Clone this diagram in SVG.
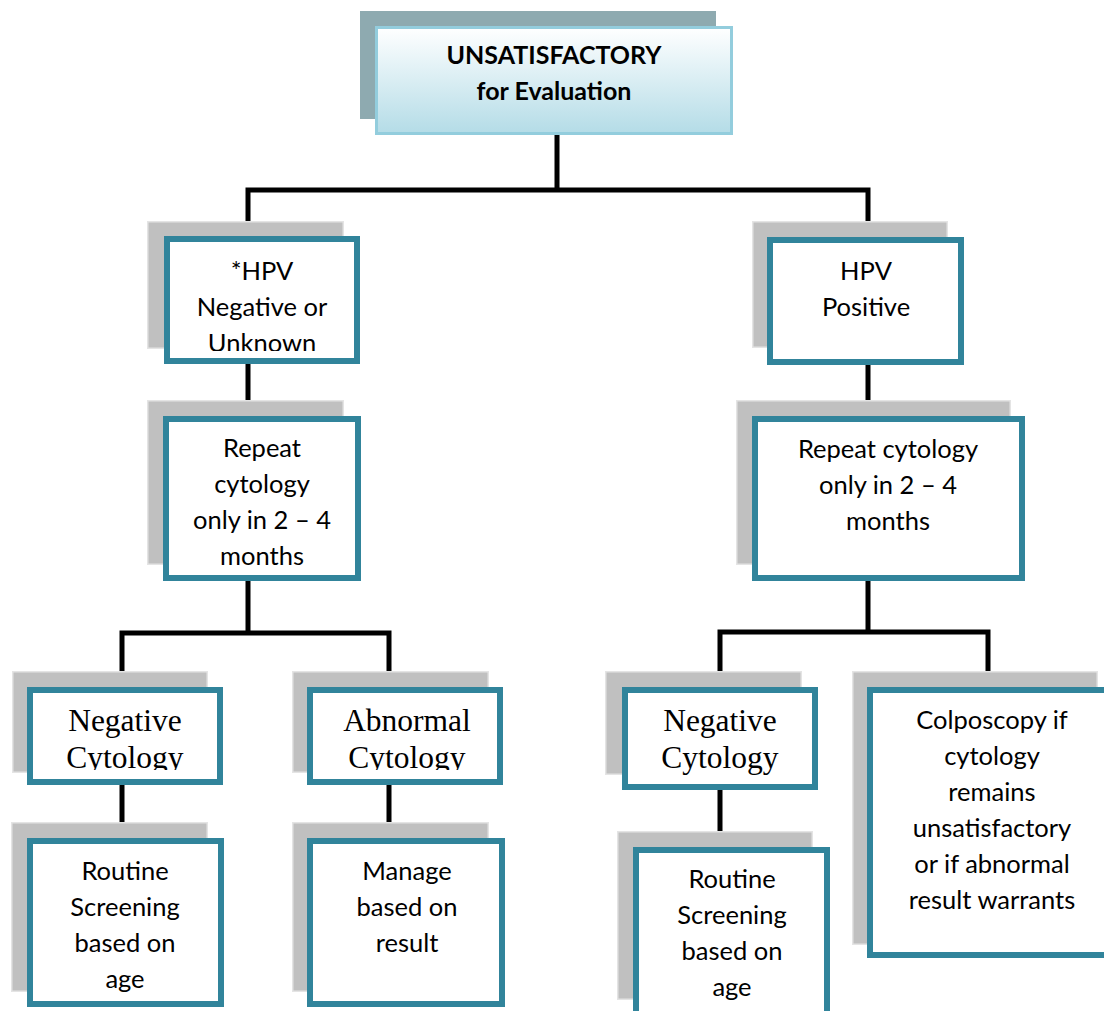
<svg xmlns="http://www.w3.org/2000/svg" width="1104" height="1011" viewBox="0 0 1104 1011">
  <defs>
    <linearGradient id="topFill" x1="0" y1="0" x2="0" y2="1">
      <stop offset="0" stop-color="#ffffff"/>
      <stop offset="1" stop-color="#b4dce7"/>
    </linearGradient>
    <clipPath id="clipHpvNeg"><rect x="170" y="242" width="184" height="109"/></clipPath>
    <clipPath id="clipNegL"><rect x="33" y="693" width="184" height="77"/></clipPath>
    <clipPath id="clipAbn"><rect x="313" y="693" width="184" height="77"/></clipPath>
  </defs>
  <style>
    .shadow { fill: #c0c0c0; stroke: #e4e4e4; stroke-width: 1.5; }
    .box { fill: #ffffff; stroke: #31849b; stroke-width: 6; }
    .lbl { font-family: "Lato", "Liberation Sans", sans-serif; font-size: 25.5px; fill: #000; text-anchor: middle; }
    .ser { font-family: "Liberation Serif", "Times New Roman", serif; font-size: 31.5px; fill: #000; text-anchor: middle; }
    .title { font-family: "Lato", "Liberation Sans", sans-serif; font-size: 25px; font-weight: bold; fill: #000; text-anchor: middle; }
    .wire { fill: none; stroke: #000; stroke-width: 5; stroke-linecap: square; }
  </style>

  <!-- connectors -->
  <g id="connectors">
    <path class="wire" d="M557,136 V190 M248,190 H868 M248,190 V236 M868,190 V236"/>
    <path class="wire" d="M248,364 V415 M868,365 V415"/>
    <path class="wire" d="M248,581 V633 M122,633 H389 M122,633 V687 M389,633 V687"/>
    <path class="wire" d="M868,581 V632 M720,632 H988 M720,632 V687 M988,632 V687"/>
    <path class="wire" d="M122,785 V838 M389,785 V838 M720,790 V847"/>
  </g>

  <!-- root -->
  <g id="node-unsatisfactory">
    <rect x="360" y="11" width="356" height="108" fill="#8eaab0"/>
    <rect x="376.5" y="27.5" width="355" height="106" fill="url(#topFill)" stroke="#93cddd" stroke-width="3"/>
    <text class="title" x="554" y="64">UNSATISFACTORY</text>
    <text class="title" x="554" y="100">for Evaluation</text>
  </g>

  <g id="node-hpv-negative">
    <rect class="shadow" x="147.75" y="221.75" width="195.5" height="126.5"/>
    <rect class="box" x="167" y="239" width="190" height="122"/>
    <g clip-path="url(#clipHpvNeg)">
      <text class="lbl" x="262" y="280">*HPV</text>
      <text class="lbl" x="262" y="316">Negative or</text>
      <text class="lbl" x="262" y="352">Unknown</text>
    </g>
  </g>

  <g id="node-hpv-positive">
    <rect class="shadow" x="752.75" y="221.75" width="194.5" height="125.5"/>
    <rect class="box" x="770" y="240" width="191" height="122"/>
    <text class="lbl" x="866" y="280">HPV</text>
    <text class="lbl" x="866" y="316">Positive</text>
  </g>

  <g id="node-repeat-left">
    <rect class="shadow" x="147.75" y="400.75" width="195.5" height="163.5"/>
    <rect class="box" x="166" y="419" width="192" height="159"/>
    <text class="lbl" x="262" y="457">Repeat</text>
    <text class="lbl" x="262" y="493">cytology</text>
    <text class="lbl" x="262" y="529">only in 2 – 4</text>
    <text class="lbl" x="262" y="565">months</text>
  </g>

  <g id="node-repeat-right">
    <rect class="shadow" x="736.75" y="400.75" width="273.5" height="163.5"/>
    <rect class="box" x="755" y="419" width="267" height="159"/>
    <text class="lbl" x="888" y="458">Repeat cytology</text>
    <text class="lbl" x="888" y="494">only in 2 – 4</text>
    <text class="lbl" x="888" y="530">months</text>
  </g>

  <g id="node-negative-left">
    <rect class="shadow" x="12.75" y="671.75" width="194.5" height="100.5"/>
    <rect class="box" x="30" y="690" width="190" height="92"/>
    <g clip-path="url(#clipNegL)">
      <text class="ser" x="125" y="731">Negative</text>
      <text class="ser" x="125" y="768">Cytology</text>
    </g>
  </g>

  <g id="node-abnormal">
    <rect class="shadow" x="292.75" y="671.75" width="195.5" height="100.5"/>
    <rect class="box" x="310" y="690" width="190" height="92"/>
    <g clip-path="url(#clipAbn)">
      <text class="ser" x="407" y="731">Abnormal</text>
      <text class="ser" x="407" y="768">Cytology</text>
    </g>
  </g>

  <g id="node-negative-right">
    <rect class="shadow" x="605.75" y="671.75" width="195.5" height="102.5"/>
    <rect class="box" x="625" y="690" width="190" height="97"/>
    <text class="ser" x="720" y="731">Negative</text>
    <text class="ser" x="720" y="768">Cytology</text>
  </g>

  <g id="node-colposcopy">
    <rect class="shadow" x="852.75" y="671.75" width="244.5" height="272.5"/>
    <rect class="box" x="870" y="690" width="240" height="265"/>
    <text class="lbl" x="992" y="729">Colposcopy if</text>
    <text class="lbl" x="992" y="765">cytology</text>
    <text class="lbl" x="992" y="801">remains</text>
    <text class="lbl" x="992" y="837">unsatisfactory</text>
    <text class="lbl" x="992" y="873">or if abnormal</text>
    <text class="lbl" x="992" y="909">result warrants</text>
  </g>

  <g id="node-routine-left">
    <rect class="shadow" x="11.75" y="822.75" width="195.5" height="168.5"/>
    <rect class="box" x="30" y="841" width="191" height="163"/>
    <text class="lbl" x="125" y="880">Routine</text>
    <text class="lbl" x="125" y="916">Screening</text>
    <text class="lbl" x="125" y="952">based on</text>
    <text class="lbl" x="125" y="988">age</text>
  </g>

  <g id="node-manage">
    <rect class="shadow" x="292.75" y="822.75" width="195.5" height="168.5"/>
    <rect class="box" x="310" y="841" width="192" height="163"/>
    <text class="lbl" x="407" y="880">Manage</text>
    <text class="lbl" x="407" y="916">based on</text>
    <text class="lbl" x="407" y="952">result</text>
  </g>

  <g id="node-routine-right">
    <rect class="shadow" x="617.75" y="831.75" width="194.5" height="167.5"/>
    <rect class="box" x="636" y="850" width="191" height="170"/>
    <text class="lbl" x="732" y="888">Routine</text>
    <text class="lbl" x="732" y="924">Screening</text>
    <text class="lbl" x="732" y="960">based on</text>
    <text class="lbl" x="732" y="996">age</text>
  </g>
</svg>
